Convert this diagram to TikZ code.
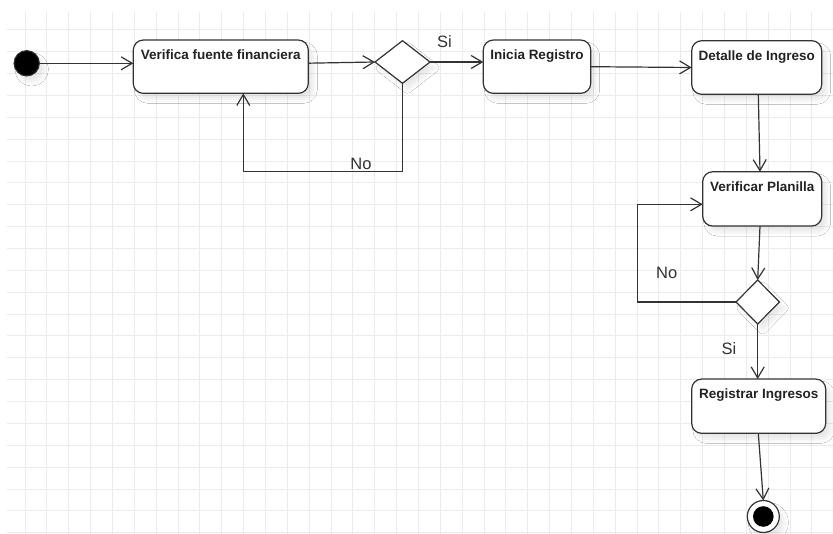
\documentclass[tikz,border=0pt]{standalone}
\usepackage{fontspec}
\setmainfont{Liberation Sans}
\usetikzlibrary{arrows.meta,shapes.geometric,shadows.blur,calc}
\definecolor{gridc}{HTML}{EBEBEB}
\definecolor{ink}{HTML}{333333}
\definecolor{txt}{HTML}{222222}
\begin{document}
\begin{tikzpicture}[x=1pt,y=-1pt,
  soft/.style={blur shadow={shadow xshift=5pt,shadow yshift=-6pt,shadow blur radius=4pt,shadow blur steps=6,shadow opacity=9}},
  act/.style={draw=ink,line width=1.2pt,fill=white,rounded corners=10pt,inner sep=0pt,outer sep=0pt,soft},
  choice/.style={diamond,draw=ink,line width=1.2pt,fill=white,inner sep=0pt,outer sep=0pt,soft},
  startdot/.style={circle,fill=black,draw=ink,line width=1pt,minimum size=25.4pt,inner sep=0pt,outer sep=0pt,soft},
  endring/.style={circle,fill=white,draw=ink,line width=1.2pt,minimum size=32pt,inner sep=0pt,outer sep=0pt,soft},
  enddot/.style={circle,fill=black,minimum size=20.6pt,inner sep=0pt},
  acttext/.style={text=txt,font=\fontsize{13.5}{16}\selectfont\bfseries,inner sep=0pt,anchor=base},
  guard/.style={text=ink,font=\fontsize{16.5}{19}\selectfont,inner sep=0pt},
  flow/.style={draw=ink,line width=1.2pt,-{Straight Barb[length=11pt,width=13pt]}}]
\useasboundingbox (0,0) rectangle (833,534);
\fill[white] (0,0) rectangle (833,534);
% background grid
\begin{scope}
  \clip (7,12) rectangle (833,534);
  \foreach \i in {0,...,37}
    \draw[gridc,line width=1pt] ({25+21.86*\i},12) -- ({25+21.86*\i},534);
  \foreach \j in {0,...,24}
    \draw[gridc,line width=1pt] (7,{8.1+21.86*\j}) -- (833,{8.1+21.86*\j});
\end{scope}
% initial and final states
\node[startdot] (start) at (26.7,63.3) {};
\node[endring] (end) at (763.3,516.5) {};
\node[enddot] (endcore) at (end) {};
% actions
\node[act,minimum width=175pt,minimum height=53.3pt] (b1) at (220.8,66.7) {};
\node[act,minimum width=107.4pt,minimum height=53.3pt] (b2) at (537,66.7) {};
\node[act,minimum width=130pt,minimum height=53.6pt] (b3) at (756.7,67.5) {};
\node[act,minimum width=119pt,minimum height=54.3pt] (b4) at (762.2,198.9) {};
\node[act,minimum width=134pt,minimum height=54.3pt] (b5) at (758.7,406.2) {};
\node[acttext] at ($(b1.north)+(0,19.8)$) {Verifica fuente financiera};
\node[acttext] at ($(b2.north)+(0,19.8)$) {Inicia Registro};
\node[acttext] at ($(b3.north)+(0,19.8)$) {Detalle de Ingreso};
\node[acttext] at ($(b4.north)+(0,19.3)$) {Verificar Planilla};
\node[acttext] at ($(b5.north)+(0,19.3)$) {Registrar Ingresos};
% decisions
\node[choice,minimum width=55pt,minimum height=42.6pt] (d1) at (402.5,62) {};
\node[choice,minimum width=43.4pt,minimum height=44pt] (d2) at (757.7,302) {};
% transitions
\draw[flow] (start.east) -- (start.east -| b1.west);
\draw[flow] ($(b1.east)+(0,-3.5)$) -- (d1.west);
\draw[flow] (d1.east) -- (d1.east -| b2.west);
\draw[flow] (b2.east) -- (b3.west);
\draw[flow] ($(b3.south)+(1.6,0)$) -- ($(b4.north)+(-2.2,0)$);
\draw[flow] ($(b4.south)+(-2.2,0)$) -- (d2.north);
\draw[flow] (d2.south) -- (d2.south |- b5.north);
\draw[flow] ($(b5.south)+(-0.4,0)$) -- (end.north);
% loops back on "No"
\coordinate (n1) at (243.3,171.7);
\draw[flow] (d1.south) |- (n1) -- (n1 |- b1.south);
\coordinate (n2) at (637.3,204.3);
\draw[flow] (d2.west) -| (n2) -- (n2 -| b4.west);
% guard labels
\node[guard] (g1) at (444.5,42) {Si};
\node[guard] (g2) at (361,163.5) {No};
\node[guard] (g3) at (666.7,272.7) {No};
\node[guard] (g4) at (729,349) {Si};
\end{tikzpicture}
\end{document}
